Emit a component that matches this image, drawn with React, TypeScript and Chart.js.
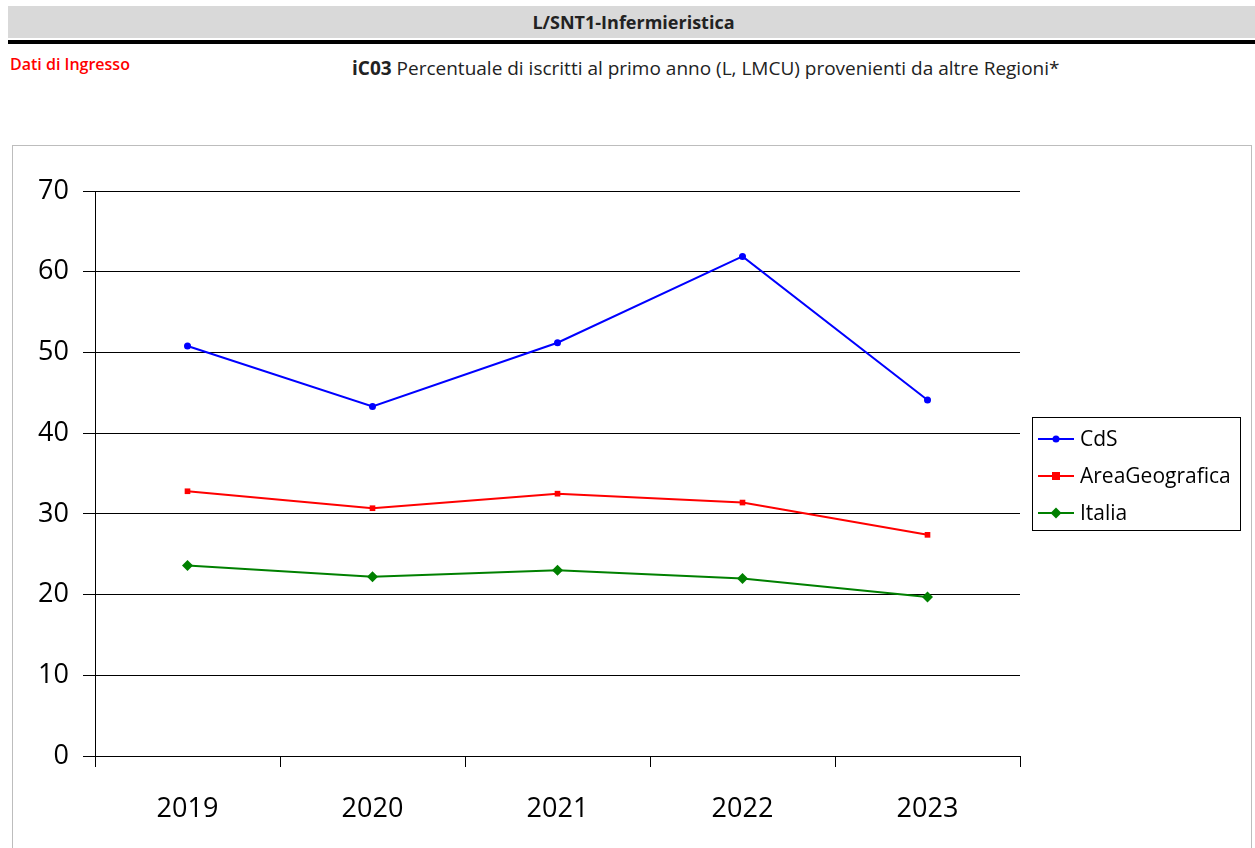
import React, { useEffect, useRef } from "react";
import { Chart, registerables } from "chart.js";

Chart.register(...registerables);

const years = ["2019", "2020", "2021", "2022", "2023"];
const cdsValues = [50.8, 43.3, 51.2, 61.9, 44.1];
const areaValues = [32.8, 30.7, 32.5, 31.4, 27.4];
const italiaValues = [23.6, 22.2, 23.0, 22.0, 19.7];
const seriesNames = ["CdS", "AreaGeografica", "Italia"];
const seriesColors = ["#0000ff", "#ff0000", "#008000"];
const pointStyles = ["circle", "rect", "rectRot"];
const pointRadii = [3.5, 4, 5.5];

const FONT = "'Open Sans', 'Liberation Sans', sans-serif";

const boxedLegend = {
  id: "boxedLegend",
  afterDraw(chart: any) {
    const ctx = chart.ctx;
    const x0 = 1019, y0 = 271, w = 208, h = 113;
    ctx.save();
    ctx.fillStyle = "#ffffff";
    ctx.fillRect(x0, y0, w, h);
    ctx.strokeStyle = "#000000";
    ctx.lineWidth = 1;
    ctx.strokeRect(x0 + 0.5, y0 + 0.5, w, h);
    const rowYs = [293, 330, 367];
    chart.data.datasets.forEach((ds: any, i: number) => {
      const y = rowYs[i];
      ctx.strokeStyle = ds.borderColor;
      ctx.lineWidth = 2;
      ctx.beginPath();
      ctx.moveTo(1025, y);
      ctx.lineTo(1061, y);
      ctx.stroke();
      ctx.fillStyle = ds.borderColor;
      const cx = 1043;
      const r = ds.pointRadius;
      if (ds.pointStyle === "circle") {
        ctx.beginPath();
        ctx.arc(cx, y, r, 0, Math.PI * 2);
        ctx.fill();
      } else if (ds.pointStyle === "rect") {
        ctx.fillRect(cx - r, y - r, r * 2, r * 2);
      } else {
        ctx.beginPath();
        ctx.moveTo(cx, y - r);
        ctx.lineTo(cx + r, y);
        ctx.lineTo(cx, y + r);
        ctx.lineTo(cx - r, y);
        ctx.closePath();
        ctx.fill();
      }
      ctx.fillStyle = "#000000";
      ctx.font = `21px ${FONT}`;
      ctx.textBaseline = "middle";
      ctx.textAlign = "left";
      ctx.fillText(ds.label, 1067, y + 1);
    });
    ctx.restore();
  },
};

export default function App() {
  const canvasRef = useRef<HTMLCanvasElement | null>(null);

  useEffect(() => {
    if (!canvasRef.current) return;
    const allValues = [cdsValues, areaValues, italiaValues];
    const chart = new Chart(canvasRef.current, {
      type: "line",
      data: {
        labels: years,
        datasets: allValues.map((vals, i) => ({
          label: seriesNames[i],
          data: vals,
          borderColor: seriesColors[i],
          backgroundColor: seriesColors[i],
          borderWidth: 2,
          pointStyle: pointStyles[i] as any,
          pointRadius: pointRadii[i],
          pointBorderWidth: 0,
          tension: 0,
        })),
      },
      options: {
        animation: false,
        responsive: false,
        maintainAspectRatio: false,
        layout: { padding: { top: 45, right: 231, left: 0, bottom: 0 } },
        plugins: {
          legend: { display: false },
          tooltip: { enabled: false },
          title: { display: false },
        },
        scales: {
          x: {
            offset: true,
            grid: {
              offset: true,
              drawOnChartArea: false,
              drawTicks: true,
              tickLength: 11,
              color: "#000000",
              lineWidth: 1,
            },
            border: { display: true, color: "#000000", width: 1 },
            ticks: {
              color: "#000000",
              font: { family: FONT, size: 27 },
              padding: 26,
              maxRotation: 0,
            },
            afterFit: (scale: any) => {
              scale.height = 92;
            },
          },
          y: {
            min: 0,
            max: 70,
            ticks: {
              stepSize: 10,
              color: "#000000",
              font: { family: FONT, size: 27 },
              padding: 14,
            },
            grid: {
              color: "#000000",
              lineWidth: 1,
              drawTicks: true,
              tickLength: 12,
            },
            border: { display: true, color: "#000000", width: 1 },
            afterFit: (scale: any) => {
              scale.width = 82;
            },
          },
        },
      },
      plugins: [boxedLegend],
    });
    return () => chart.destroy();
  }, []);

  return (
    <div style={{ position: "fixed", left: 0, top: 0, width: 1255, height: 848, overflow: "hidden", fontFamily: FONT, background: "#fff" }}>
      <div
        style={{
          position: "absolute",
          left: 8,
          top: 6,
          width: 1247,
          height: 32,
          background: "#d9d9d9",
          display: "flex",
          alignItems: "center",
          justifyContent: "center",
          fontWeight: 700,
          fontSize: 18,
          color: "#222",
        }}
      >
        <span style={{ marginLeft: 4 }}>L/SNT1-Infermieristica</span>
      </div>
      <div style={{ position: "absolute", left: 8, top: 40, width: 1247, height: 4, background: "#000" }} />
      <div
        style={{
          position: "absolute",
          left: 10,
          top: 53,
          fontSize: 16,
          fontWeight: 600,
          color: "#ff0000",
          whiteSpace: "nowrap",
        }}
      >
        Dati di Ingresso
      </div>
      <div
        style={{
          position: "absolute",
          left: 352,
          top: 55,
          fontSize: 19,
          color: "#222",
          whiteSpace: "nowrap",
        }}
      >
        <b>iC03</b> Percentuale di iscritti al primo anno (L, LMCU) provenienti da altre Regioni*
      </div>
      <div
        style={{
          position: "absolute",
          left: 12,
          top: 145,
          width: 1238,
          height: 740,
          borderLeft: "1px solid #bdbdbd",
          borderTop: "1px solid #bdbdbd",
          borderRight: "1px solid #bdbdbd",
          background: "#fff",
        }}
      >
        <canvas ref={canvasRef} width={1238} height={702} style={{ display: "block", width: 1238, height: 702 }} />
      </div>
    </div>
  );
}
